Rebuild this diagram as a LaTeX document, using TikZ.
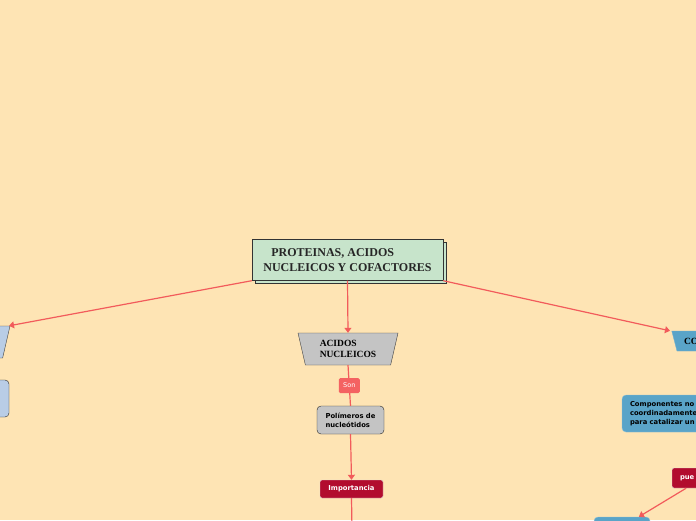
\documentclass[tikz,border=0pt]{standalone}
\usepackage{fontspec}
\setmainfont{Liberation Serif}
\newfontfamily\boxfont{DejaVu Sans}
\usetikzlibrary{positioning,arrows.meta,shapes.geometric,shadows}

\definecolor{paper}{HTML}{FEE4B4}
\definecolor{mint}{HTML}{C7E4CB}
\definecolor{greybox}{HTML}{C4C4C4}
\definecolor{linkred}{HTML}{F25B5B}
\definecolor{tagred}{HTML}{F46262}
\definecolor{darkred}{HTML}{B20C2E}
\definecolor{steel}{HTML}{5AA4C8}
\definecolor{paleblue}{HTML}{B9CDE6}

\begin{document}
\begin{tikzpicture}[
    x=1pt, y=-1pt,
    hub/.style={draw=black!80, fill=mint, minimum width=191pt, minimum height=41pt,
        copy shadow={shadow xshift=3pt, shadow yshift=-3pt}, align=left,
        text=black!85, font=\bfseries\fontsize{12}{15}\selectfont},
    trap/.style={trapezium, shape border rotate=180, trapezium angle=72.6,
        trapezium stretches body=true, minimum width=100pt, minimum height=32pt,
        draw=black!75, align=left, font=\bfseries\fontsize{9.5}{10.5}\selectfont},
    leaf/.style={draw=black!85, rounded corners=4pt, minimum height=28pt, align=left,
        font=\boxfont\bfseries\fontsize{6.8}{9}\selectfont},
    badge/.style={draw=white!75!gray, fill=darkred, text=white, rounded corners=2pt,
        minimum height=18pt, align=left, font=\boxfont\bfseries\fontsize{6.8}{8}\selectfont},
    tag/.style={fill=tagred, text=white, rounded corners=1.5pt, minimum width=21pt,
        minimum height=15pt, inner sep=1pt, font=\boxfont\fontsize{6.5}{7}\selectfont},
    link/.style={draw=linkred, line width=1.2pt, -{Triangle[length=5pt,width=7pt]}},
    line/.style={draw=linkred, line width=1.2pt}
]
\useasboundingbox (0,0) rectangle (696,520);
\fill[paper] (0,0) rectangle (696,520);
\clip (0,0) rectangle (696,520);

% centre
\node[hub] (main) at (347.5,260) {\hspace{8pt}PROTEINAS, ACIDOS\\NUCLEICOS Y COFACTORES};

% left branch
\node[trap, fill=paleblue] (left) at (-40,342) {\phantom{ACIDOS}\\\phantom{NUCLEICOS}};
\node[leaf, fill=paleblue, minimum width=78pt, minimum height=37pt] (lbox) at (-30,398.5) {};

% middle branch
\node[trap, fill=greybox] (acidos) at (348,349) {ACIDOS\\NUCLEICOS};
\node[leaf, fill=greybox, minimum width=67pt] (poly) at (350.5,420) {Pol\'imeros de\\nucle\'otidos};
\node[badge, minimum width=63pt] (imp) at (351.5,489) {Importancia};
\coordinate (impend) at (352,530);

% right branch
\node[trap, fill=steel, draw=steel!85!white, minimum height=20pt, trapezium angle=68.2,
    minimum width=0pt, inner xsep=7pt, text width=80pt] (cofac) at (724,341) {CO};
\node[leaf, fill=steel, draw=steel!70!white, minimum height=37pt, inner xsep=8pt,
    text width=120pt] (comp) at (690,413.5) {Componentes no\\coordinadamente\\para catalizar un};
\node[badge, minimum height=20pt, inner xsep=8pt, text width=46pt] (pue) at (703,478) {pue};
\node[leaf, fill=steel, draw=steel!70!white, minimum width=56pt, minimum height=20pt] (bot) at (622,527) {};

\draw[link] (main.south west) -- ([xshift=49pt]left.north);
\draw[link] (main.south) -- (acidos.north);
\draw[link] (main.south east) -- ([xshift=-54pt]cofac.north);
\draw[line] (acidos.south) -- node[tag] (son) {Son} (poly.north);
\draw[link] (poly.south) -- (imp.north);
\draw[line] (imp.south) -- (impend);
\draw[link] (pue) -- (bot);
\end{tikzpicture}
\end{document}
